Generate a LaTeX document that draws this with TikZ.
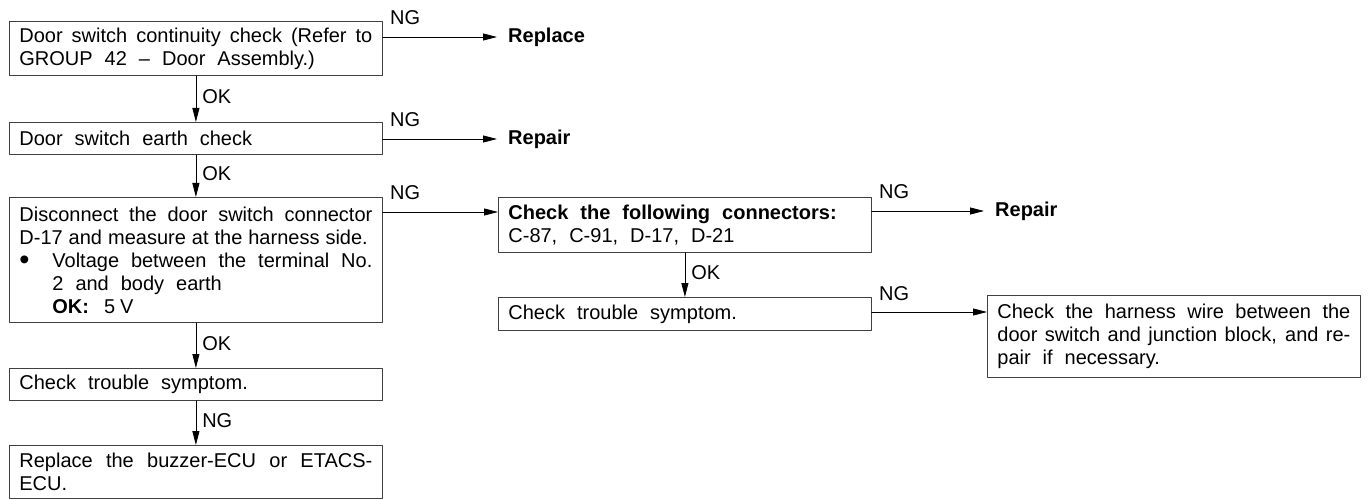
\documentclass[tikz,border=0pt]{standalone}
\usepackage{fontspec}
\setmainfont{Liberation Sans}
\usetikzlibrary{arrows.meta,positioning}

\newcommand\chartfont{\fontsize{20}{23}\selectfont\spaceskip=.6em plus .3em minus .32em\relax}
\newcommand\bigdot{\raisebox{-2.5pt}{\fontsize{29}{23}\selectfont\textbullet}}

\begin{document}
\begin{tikzpicture}[x=1pt,y=-1pt,line cap=round,line join=round,
  font=\chartfont,
  box/.style={draw=black!75,line width=.8pt,anchor=north west,text width=353pt,
    inner xsep=10pt,inner ysep=3pt,align=justify},
  res/.style={anchor=west,inner xsep=11pt,font=\chartfont\bfseries},
  lbl/.style={inner sep=0pt},
  flow/.style={line width=.8pt,-{Triangle[length=14pt,width=7pt]}}]
\useasboundingbox(0,0)rectangle(1369,500);
% left column
\node[box,minimum height=54pt](cont)at(9,21)
  {Door switch continuity check (Refer to\linebreak GROUP 42 -- Door Assembly.)};
\node[box,minimum height=32pt](earth)at(9,122){Door switch earth check};
\node[box,minimum height=125pt](disc)at(9,197)
  {Disconnect the door switch connector\linebreak
   {\spaceskip=.3em plus .1em D-17 and measure at the harness side.}\par
   \noindent\makebox[33pt][l]{\bigdot}\parbox[t]{320pt}{\chartfont Voltage between the terminal No.\linebreak
   2 and body earth\\ \textbf{OK:}\hspace{15pt}5\hspace{5pt}V}};
\node[box,minimum height=32pt](symA)at(9,368){Check trouble symptom.};
\node[box,minimum height=53pt](ecu)at(9,445)
  {Replace the buzzer-ECU or ETACS-\linebreak ECU.};
% right part
\node[box,minimum height=55pt](conn)at(498,197)
  {\textbf{Check the following connectors:}\\ C-87, C-91, D-17, D-21};
\node[box,minimum height=33pt](symB)at(498,297){Check trouble symptom.};
\node[box,minimum height=82pt](harn)at(987,295)
  {Check the harness wire between the door switch and junction block, and re-\linebreak pair if necessary.};
% results
\node[res](rpl)at(497,37){Replace};
\node[res](repA)at(497,139){Repair};
\node[res](repB)at(984,211){Repair};
% connectors
\draw[flow](cont.south)--node[lbl,pos=.45,anchor=west,xshift=6pt]{OK}(earth.north);
\draw[flow](earth.south)--node[lbl,pos=.45,anchor=west,xshift=6pt]{OK}(disc.north);
\draw[flow](disc.south)--node[lbl,pos=.45,anchor=west,xshift=6pt]{OK}(symA.north);
\draw[flow](symA.south)--node[lbl,pos=.45,anchor=west,xshift=6pt]{NG}(ecu.north);
\draw[flow](conn.south)--node[lbl,pos=.45,anchor=west,xshift=6pt]{OK}(symB.north);
\draw[flow]([yshift=-16pt]cont.north east)--node[lbl,pos=0,anchor=base west,xshift=7pt,yshift=12pt]{NG}(rpl.west);
\draw[flow]([yshift=-17pt]earth.north east)--node[lbl,pos=0,anchor=base west,xshift=7pt,yshift=12pt]{NG}(repA.west);
\draw[flow]([yshift=-15pt]disc.north east)--node[lbl,pos=0,anchor=base west,xshift=7pt,yshift=12pt]{NG}([yshift=-15pt]conn.north west);
\draw[flow]([yshift=-14pt]conn.north east)--node[lbl,pos=0,anchor=base west,xshift=7pt,yshift=12pt]{NG}(repB.west);
\draw[flow]([yshift=-15pt]symB.north east)--node[lbl,pos=0,anchor=base west,xshift=7pt,yshift=12pt]{NG}([yshift=-17pt]harn.north west);
\end{tikzpicture}
\end{document}
